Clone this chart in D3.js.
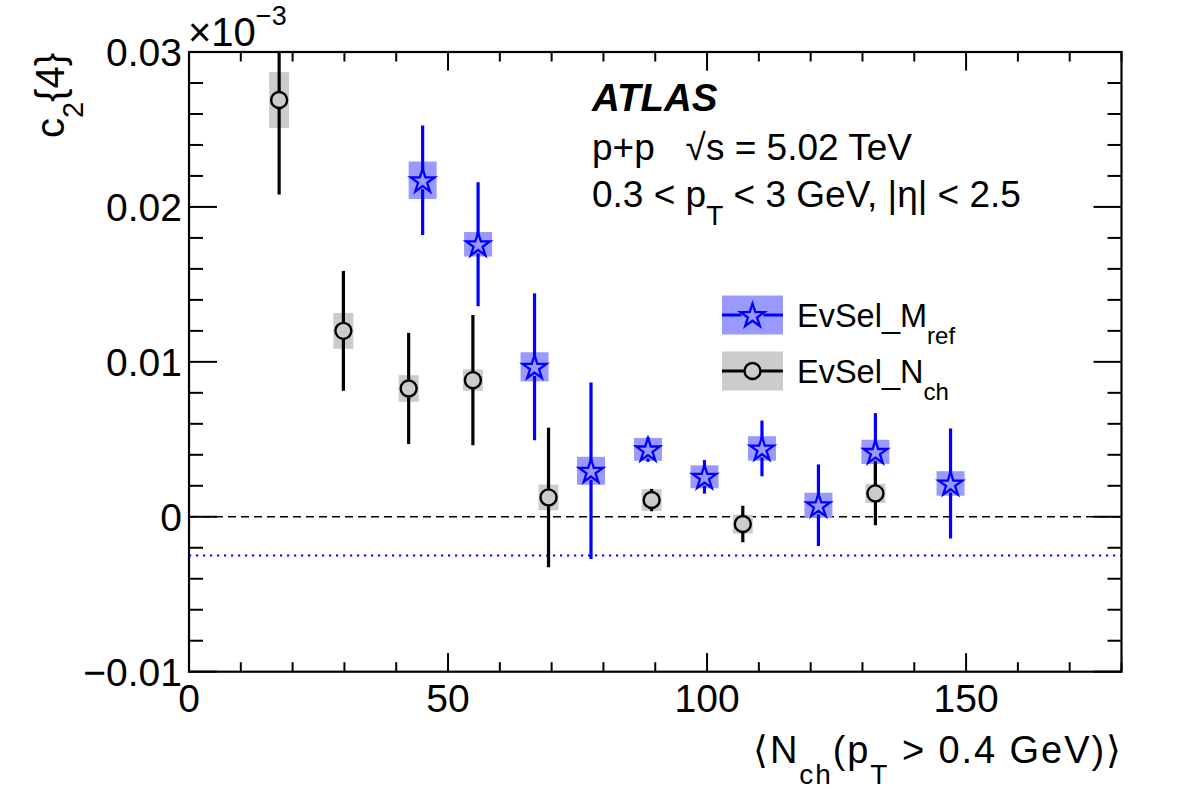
<!DOCTYPE html>
<html>
<head>
<meta charset="utf-8">
<script src="https://cdn.jsdelivr.net/npm/d3@7"></script>
<style>
  html, body { margin: 0; padding: 0; background: #fff; }
  svg { display: block; font-family: "Liberation Sans", Arial, Helvetica, sans-serif; }
</style>
</head>
<body>
<div id="chart"></div>
<script>
// EvSel_N_ch (open circles, gray boxes)
const nchX = [17.4, 29.8, 42.4, 54.8, 69.4, 89.3, 106.9, 132.5];
const nchY = [0.0269, 0.0120, 0.00828, 0.00882, 0.00125, 0.00108, -0.00047, 0.00151];
const nchStat = [0.0061, 0.00387, 0.00359, 0.0042, 0.0045, 0.00072, 0.00118, 0.00206];
const nchSys = [0.0018, 0.00116, 0.00086, 0.00069, 0.00083, 0.0007, 0.00061, 0.00062];

// EvSel_M_ref (open stars, blue boxes)
const mrefX = [45.1, 55.8, 66.7, 77.6, 88.6, 99.5, 110.6, 121.5, 132.5, 147.0];
const mrefY = [0.02172, 0.01759, 0.00968, 0.00297, 0.00435, 0.00258, 0.00441, 0.00075, 0.00419, 0.00215];
const mrefStat = [0.00354, 0.0040, 0.00474, 0.0057, 0.0008, 0.00108, 0.0018, 0.00263, 0.0025, 0.00355];
const mrefSys = [0.00121, 0.00079, 0.00094, 0.0009, 0.00074, 0.00074, 0.00079, 0.0008, 0.00078, 0.00079];

const refLines = [0, -0.0025];
const xTicks = [0, 50, 100, 150];
const yTicks = [-0.01, 0, 0.01, 0.02, 0.03];
const yTickLabels = ["\u22120.01", "0", "0.01", "0.02", "0.03"];

const W = 1182, H = 800;
const margin = { l: 189, r: W - 1121.5, t: 52, b: H - 671.7 };

const svg = d3.select("#chart").append("svg")
  .attr("width", W).attr("height", H)
  .attr("viewBox", [0, 0, W, H]);

const x = d3.scaleLinear().domain([0, 180]).range([margin.l, W - margin.r]);
const y = d3.scaleLinear().domain([-0.01, 0.03]).range([H - margin.b, margin.t]);

// clip to frame
svg.append("clipPath").attr("id", "frame-clip")
  .append("rect")
  .attr("x", margin.l).attr("y", margin.t)
  .attr("width", x(180) - x(0)).attr("height", y(-0.01) - y(0.03));

// axes: ticks on all four sides, pointing inward
const majX = 18.6, minX = 9.5, majY = 28, minY = 14;
const xMinor = d3.range(0, 181, 10).filter(v => v % 50 !== 0);
const yMinor = d3.range(-0.01, 0.0301, 0.002).filter(v => Math.abs(Math.round(v * 100) - v * 100) > 1e-6);

const axisG = svg.append("g").attr("stroke", "#000").attr("stroke-width", 2);

[[y(-0.01), -1], [y(0.03), 1]].forEach(([yy, dir]) => {
  xTicks.forEach(v => axisG.append("line")
    .attr("x1", x(v)).attr("x2", x(v)).attr("y1", yy).attr("y2", yy + dir * majX));
  xMinor.forEach(v => axisG.append("line")
    .attr("x1", x(v)).attr("x2", x(v)).attr("y1", yy).attr("y2", yy + dir * minX));
});
[[x(0), 1], [x(180), -1]].forEach(([xx, dir]) => {
  yTicks.forEach(v => axisG.append("line")
    .attr("y1", y(v)).attr("y2", y(v)).attr("x1", xx).attr("x2", xx + dir * majY));
  yMinor.forEach(v => axisG.append("line")
    .attr("y1", y(v)).attr("y2", y(v)).attr("x1", xx).attr("x2", xx + dir * minY));
});

// tick labels
svg.append("g").selectAll("text").data(xTicks).join("text")
  .attr("x", d => x(d)).attr("y", 712)
  .attr("text-anchor", "middle").attr("font-size", 39)
  .text(d => d);

svg.append("g").selectAll("text").data(yTicks).join("text")
  .attr("x", 182).attr("y", d => y(d) + 14)
  .attr("text-anchor", "end").attr("font-size", 39)
  .text((d, i) => yTickLabels[i]);

// exponent
const expo = svg.append("text").attr("x", 188).attr("y", 46).attr("font-size", 40);
expo.append("tspan").text("\u00d710");
expo.append("tspan").attr("dy", -21).attr("font-size", 27).text("\u22123");

// axis titles
const yt = svg.append("text")
  .attr("transform", "translate(64,53) rotate(-90)")
  .attr("text-anchor", "end").attr("font-size", 40);
yt.append("tspan").text("c");
yt.append("tspan").attr("dy", 19).attr("font-size", 29).text("2");
yt.append("tspan").attr("dy", -19).text("{4}");

const xt = svg.append("text")
  .attr("x", 1121).attr("y", 763)
  .attr("text-anchor", "end").attr("font-size", 38)
  .attr("textLength", 368).attr("lengthAdjust", "spacing");
xt.append("tspan").text("\u27e8N");
xt.append("tspan").attr("dy", 21).attr("font-size", 28).text("ch");
xt.append("tspan").attr("dy", -21).text("(p");
xt.append("tspan").attr("dy", 21).attr("font-size", 28).text("T");
xt.append("tspan").attr("dy", -21).text(" > 0.4 GeV)\u27e9");

// plot content
const plot = svg.append("g").attr("clip-path", "url(#frame-clip)");

plot.append("line")
  .attr("x1", x(0)).attr("x2", x(180)).attr("y1", y(refLines[0])).attr("y2", y(refLines[0]))
  .attr("stroke", "#000").attr("stroke-width", 1.6).attr("stroke-dasharray", "8,5");
plot.append("line")
  .attr("x1", x(0)).attr("x2", x(180)).attr("y1", y(refLines[1])).attr("y2", y(refLines[1]))
  .attr("stroke", "#0000ff").attr("stroke-width", 2).attr("stroke-dasharray", "2.2,4.8");

const nchData = nchX.map((v, i) => ({ x: v, y: nchY[i], stat: nchStat[i], sys: nchSys[i] }));
const mrefData = mrefX.map((v, i) => ({ x: v, y: mrefY[i], stat: mrefStat[i], sys: mrefSys[i] }));

const grayFill = "#cccccc", blueFill = "#9999ff";
const circR = 8, starR = 12.5;
const starPath = d3.symbol().type(d3.symbolStar).size(starR * starR / 0.8908130915292852)();

// systematic boxes
plot.append("g").selectAll("rect").data(nchData).join("rect")
  .attr("x", d => x(d.x) - 10).attr("width", 20)
  .attr("y", d => y(d.y + d.sys)).attr("height", d => y(d.y - d.sys) - y(d.y + d.sys))
  .attr("fill", grayFill);
plot.append("g").selectAll("rect").data(mrefData).join("rect")
  .attr("x", d => x(d.x) - 14).attr("width", 28)
  .attr("y", d => y(d.y + d.sys)).attr("height", d => y(d.y - d.sys) - y(d.y + d.sys))
  .attr("fill", blueFill);

// stat error bars, broken around the marker
function errBars(g, data, color, gap) {
  data.forEach(d => {
    const cx = x(d.x), cy = y(d.y);
    const top = y(d.y + d.stat), bot = y(d.y - d.stat);
    if (cy - top > gap) g.append("line").attr("x1", cx).attr("x2", cx)
      .attr("y1", top).attr("y2", cy - gap).attr("stroke", color).attr("stroke-width", 3.2);
    if (bot - cy > gap) g.append("line").attr("x1", cx).attr("x2", cx)
      .attr("y1", cy + gap).attr("y2", bot).attr("stroke", color).attr("stroke-width", 3.2);
  });
}

const mG = plot.append("g");
errBars(mG, mrefData, "#0000ff", 9);
mG.selectAll("path").data(mrefData).join("path")
  .attr("d", starPath)
  .attr("transform", d => `translate(${x(d.x)},${y(d.y) + 1})`)
  .attr("fill", "none").attr("stroke", "#0000ff").attr("stroke-width", 2.3);

const nG = plot.append("g");
errBars(nG, nchData, "#000", circR);
nG.selectAll("circle").data(nchData).join("circle")
  .attr("cx", d => x(d.x)).attr("cy", d => y(d.y)).attr("r", circR)
  .attr("fill", grayFill).attr("stroke", "#000").attr("stroke-width", 2.4);

// frame
svg.append("rect")
  .attr("x", x(0)).attr("y", y(0.03))
  .attr("width", x(180) - x(0)).attr("height", y(-0.01) - y(0.03))
  .attr("fill", "none").attr("stroke", "#000").attr("stroke-width", 2.2);

// labels
svg.append("text").attr("x", 592).attr("y", 110.5)
  .attr("font-size", 38.5).attr("font-weight", "bold").attr("font-style", "italic")
  .text("ATLAS");
svg.append("text").attr("x", 592).attr("y", 160)
  .attr("font-size", 37).attr("xml:space", "preserve")
  .text("p+p   \u221as = 5.02 TeV");
const ln3 = svg.append("text").attr("x", 592).attr("y", 206.5).attr("font-size", 37);
ln3.append("tspan").text("0.3 < p");
ln3.append("tspan").attr("dy", 18).attr("font-size", 28).text("T");
ln3.append("tspan").attr("dy", -18).text(" < 3 GeV, |\u03b7| < 2.5");

// legend
const legend = [
  { name: "EvSel_M", sub: "ref", fill: blueFill, color: "#0000ff", y: 315, mark: "star" },
  { name: "EvSel_N", sub: "ch", fill: grayFill, color: "#000", y: 371, mark: "circle" }
];
const lg = svg.append("g");
legend.forEach(e => {
  lg.append("rect").attr("x", 722).attr("y", e.y - 19.5).attr("width", 61).attr("height", 39)
    .attr("fill", e.fill);
  const gap = e.mark === "star" ? 11 : circR;
  lg.append("line").attr("x1", 722).attr("x2", 752.5 - gap).attr("y1", e.y).attr("y2", e.y)
    .attr("stroke", e.color).attr("stroke-width", 3);
  lg.append("line").attr("x1", 752.5 + gap).attr("x2", 783).attr("y1", e.y).attr("y2", e.y)
    .attr("stroke", e.color).attr("stroke-width", 3);
  if (e.mark === "star") {
    lg.append("path").attr("d", starPath).attr("transform", `translate(752.5,${e.y + 1})`)
      .attr("fill", "none").attr("stroke", e.color).attr("stroke-width", 2.3);
  } else {
    lg.append("circle").attr("cx", 752.5).attr("cy", e.y).attr("r", circR)
      .attr("fill", "none").attr("stroke", e.color).attr("stroke-width", 2.4);
  }
  const t = lg.append("text").attr("x", 797).attr("y", e.y + 12).attr("font-size", 32.5);
  t.append("tspan").text(e.name);
  t.append("tspan").attr("dy", 17).attr("font-size", 24).text(e.sub);
});
</script>
</body>
</html>
